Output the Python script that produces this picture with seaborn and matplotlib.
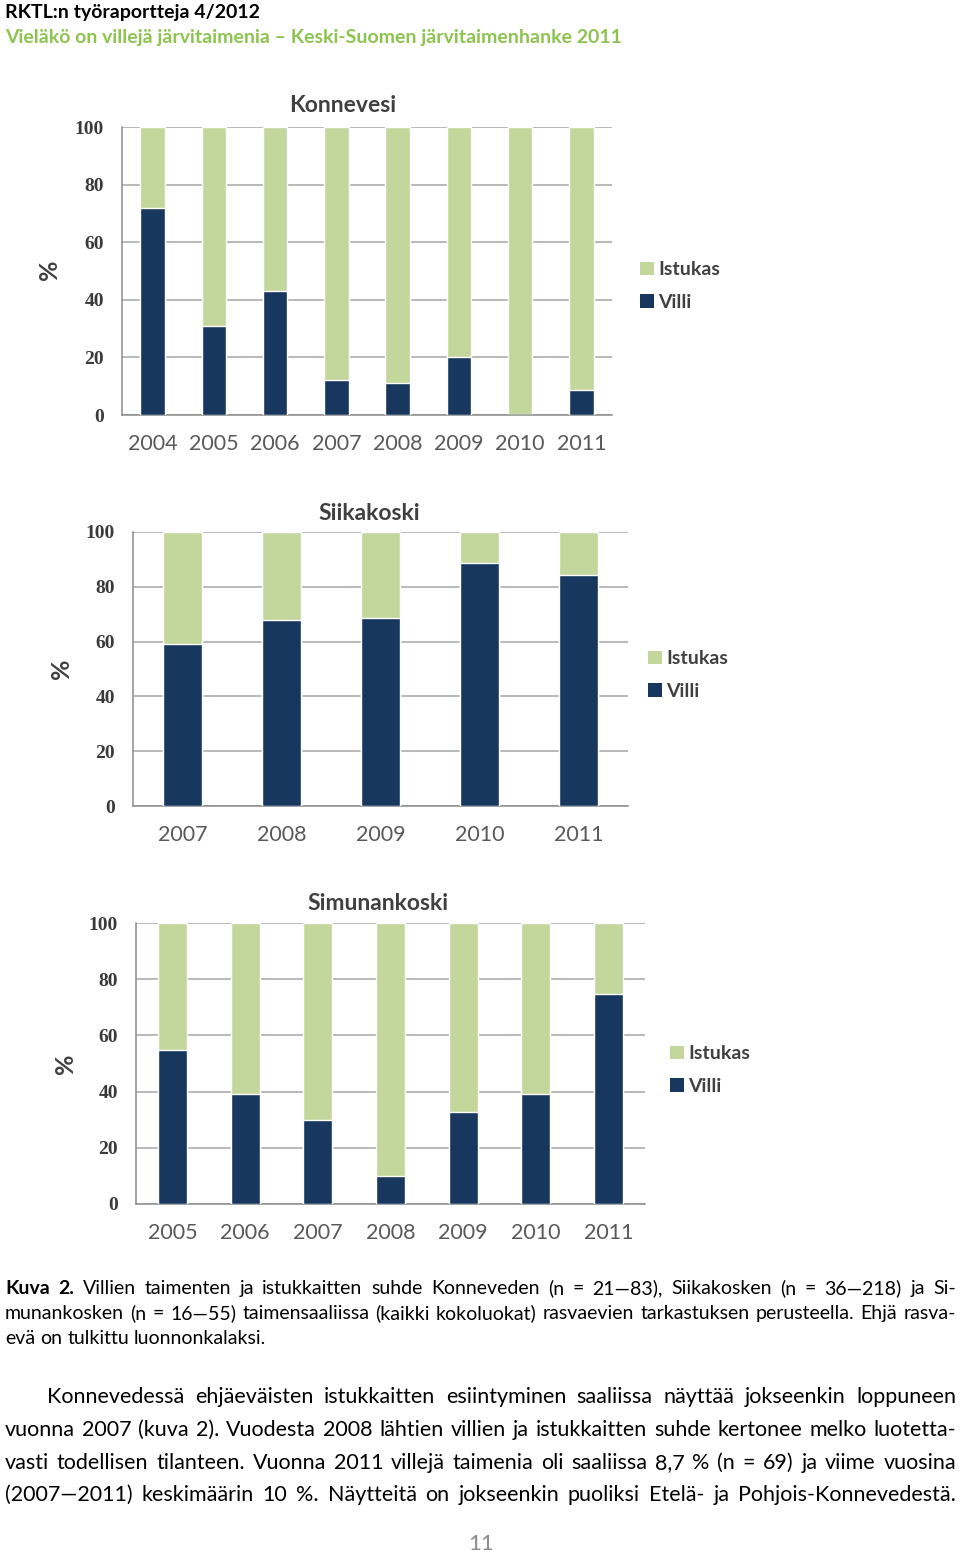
import numpy as np
import pandas as pd
import matplotlib
matplotlib.use("Agg")
import matplotlib.pyplot as plt
from matplotlib.patches import Patch
from matplotlib.ticker import FixedLocator
import seaborn as sns

# ---------------- data ----------------
konnevesi_years = ["2004", "2005", "2006", "2007", "2008", "2009", "2010", "2011"]
konnevesi_villi = [72.0, 31.0, 43.0, 12.0, 11.0, 20.0, 0.0, 8.7]
konnevesi_istukas = [28.0, 69.0, 57.0, 88.0, 89.0, 80.0, 100.0, 91.3]

siikakoski_years = ["2007", "2008", "2009", "2010", "2011"]
siikakoski_villi = [59.0, 68.0, 68.7, 88.8, 84.2]
siikakoski_istukas = [41.0, 32.0, 31.3, 11.2, 15.8]

simunankoski_years = ["2005", "2006", "2007", "2008", "2009", "2010", "2011"]
simunankoski_villi = [54.8, 39.0, 30.0, 9.9, 32.7, 39.0, 74.7]
simunankoski_istukas = [45.2, 61.0, 70.0, 90.1, 67.3, 61.0, 25.3]

y_ticks = [0, 20, 40, 60, 80, 100]
series_labels = ["Istukas", "Villi"]

# ---------------- style ----------------
sns.set_theme(style="white")
SANS = ["Lato", "DejaVu Sans"]
SERIF = ["Liberation Serif", "DejaVu Serif"]
plt.rcParams["font.family"] = SANS

GREEN = "#C3D69B"
NAVY = "#17375E"
GRID = "#A6A6A6"
TXT = "#404040"

W, H = 960, 1552
fig = plt.figure(figsize=(W / 100, H / 100), dpi=100)
fig.patch.set_facecolor("white")


def fx(x):
    return x / W


def fy(y):
    return 1 - y / H


def chart(left, right, top, bottom, years, villi, istukas, title, title_xy, pct_xy, legend_xy):
    ax = fig.add_axes([fx(left), fy(bottom), fx(right - left), (bottom - top) / H])
    df = pd.DataFrame({"year": years, "villi": villi, "istukas": istukas})
    df["total"] = df["villi"] + df["istukas"]
    sns.barplot(data=df, x="year", y="total", order=years, color=GREEN, saturation=1,
                width=0.4, ax=ax, errorbar=None, zorder=2)
    sns.barplot(data=df, x="year", y="villi", order=years, color=NAVY, saturation=1,
                width=0.4, ax=ax, errorbar=None, zorder=3)
    n = len(years)
    ax.set_xlim(-0.5, n - 0.5)
    ax.set_ylim(0, 100)
    ax.set_xlabel("")
    ax.set_ylabel("")
    ax.set_yticks(y_ticks)
    ax.yaxis.grid(True, color=GRID, lw=1.1)
    ax.xaxis.grid(False)
    ax.set_axisbelow(True)
    for s in ["top", "right"]:
        ax.spines[s].set_visible(False)
    for s in ["left", "bottom"]:
        ax.spines[s].set_color("#8C8C8C")
        ax.spines[s].set_linewidth(1.1)
    ax.xaxis.set_minor_locator(FixedLocator(np.arange(-0.5, n, 1.0)))
    ax.tick_params(axis="x", which="major", length=0, pad=14, labelsize=15.5, labelcolor="#595959")
    ax.tick_params(axis="x", which="minor", length=6, width=1.1, color="#8C8C8C", direction="out")
    ax.tick_params(axis="y", which="major", length=5, width=1.1, color="#8C8C8C", direction="out",
                   pad=8, labelsize=14, labelcolor="#3A3A3A")
    for lab in ax.get_yticklabels():
        lab.set_fontfamily(SERIF)
        lab.set_fontweight("bold")
    fig.text(fx(title_xy[0]), fy(title_xy[1]), title, ha="center", va="center",
             fontsize=16.5, fontweight="bold", color=TXT)
    fig.text(fx(pct_xy[0]), fy(pct_xy[1]), "%", ha="center", va="center", rotation=90,
             fontsize=18, fontweight="bold", color=TXT)
    handles = [Patch(facecolor=GREEN, edgecolor="none"), Patch(facecolor=NAVY, edgecolor="none")]
    ax.legend(handles, series_labels, loc="center left",
              bbox_to_anchor=(fx(legend_xy[0]), fy(legend_xy[1])), bbox_transform=fig.transFigure,
              frameon=False, handlelength=0.7, handleheight=0.7, handletextpad=0.25,
              labelspacing=0.8, borderpad=0, borderaxespad=0,
              prop={"size": 14, "weight": "bold"}, labelcolor=TXT)
    return ax


chart(122, 612, 127, 415, konnevesi_years, konnevesi_villi, konnevesi_istukas,
      "Konnevesi", (343, 106), (50, 270), (640, 286))
chart(133, 628, 532, 806, siikakoski_years, siikakoski_villi, siikakoski_istukas,
      "Siikakoski", (369, 514), (62, 669), (648, 675))
chart(136, 645, 923, 1204, simunankoski_years, simunankoski_villi, simunankoski_istukas,
      "Simunankoski", (378, 903), (65, 1064), (670, 1070))

# ---------------- page text ----------------
fig.text(fx(5), fy(18), "RKTL:n työraportteja 4/2012", ha="left", va="baseline",
         fontsize=14, fontweight="bold", color="#000000")
fig.text(fx(5), fy(43), "Vieläkö on villejä järvitaimenia – Keski-Suomen järvitaimenhanke 2011",
         ha="left", va="baseline", fontsize=14, fontweight="bold", color="#8DC450")

renderer = fig.canvas.get_renderer()


def text_line(words, x0, x1, y, size, justify=True):
    items = []
    total = 0.0
    for w, bold in words:
        t = fig.text(0, 0, w, fontsize=size, fontweight="bold" if bold else "normal",
                     color="#000000", ha="left", va="baseline")
        wd = t.get_window_extent(renderer).width
        items.append((t, wd))
        total += wd
    space = size * 100 / 72 * 0.26
    if justify and len(items) > 1:
        gap = (x1 - x0 - total) / (len(items) - 1)
    else:
        gap = space
    x = x0
    for t, wd in items:
        t.set_position((fx(x), fy(y)))
        x += wd + gap


def words_of(s, bold_n=0):
    ws = s.split()
    return [(w, i < bold_n) for i, w in enumerate(ws)]


cap = 14
text_line(words_of("Kuva 2. Villien taimenten ja istukkaitten suhde Konneveden (n = 21—83), Siikakosken (n = 36—218) ja Si-", 2),
          5, 956, 1294, cap)
text_line(words_of("munankosken (n = 16—55) taimensaaliissa (kaikki kokoluokat) rasvaevien tarkastuksen perusteella.  Ehjä rasva-"),
          5, 956, 1319, cap)
text_line(words_of("evä on tulkittu luonnonkalaksi."), 5, 956, 1344, cap, justify=False)

body = 15.5
text_line(words_of("Konnevedessä ehjäeväisten istukkaitten esiintyminen saaliissa näyttää jokseenkin loppuneen"),
          47, 956, 1403, body)
text_line(words_of("vuonna 2007 (kuva 2). Vuodesta 2008 lähtien villien ja istukkaitten suhde kertonee melko luotetta-"),
          5, 956, 1436, body)
text_line(words_of("vasti todellisen tilanteen. Vuonna 2011 villejä taimenia oli saaliissa 8,7 % (n = 69) ja viime vuosina"),
          5, 956, 1469, body)
text_line(words_of("(2007—2011) keskimäärin 10 %. Näytteitä on jokseenkin puoliksi Etelä- ja Pohjois-Konnevedestä."),
          5, 956, 1501, body)

fig.text(fx(481), fy(1550), "11", ha="center", va="baseline", fontsize=16, color="#8C8C8C")

fig.savefig("out.png", dpi=100)
